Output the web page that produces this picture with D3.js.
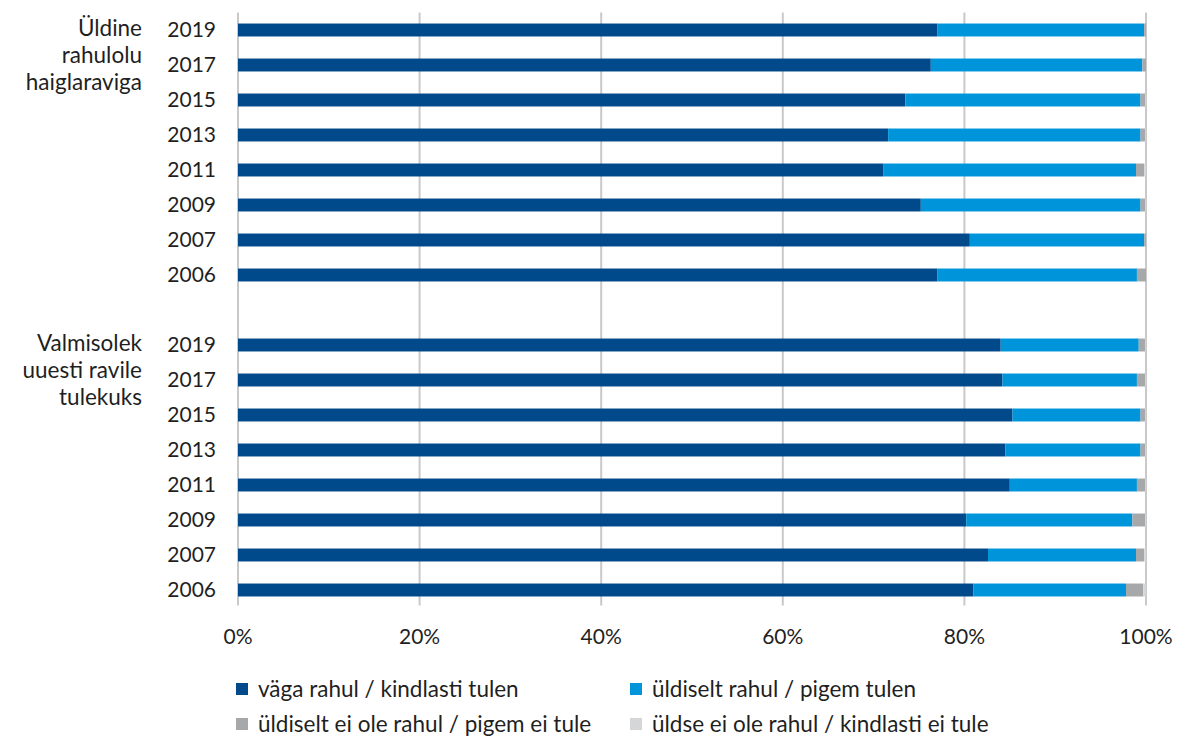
<!DOCTYPE html>
<html>
<head>
<meta charset="utf-8">
<script src="https://cdn.jsdelivr.net/npm/d3@7"></script>
<style>
    body { margin: 0; background: #fff; }
    text { font-family: Lato, "Open Sans", sans-serif; fill: #1f1f1f; }
</style>
</head>
<body>
<div class="svg"></div>
<script>
// years, top to bottom inside each block
var years = ["2019", "2017", "2015", "2013", "2011", "2009", "2007", "2006"];
var groupLabels = [
    ["Üldine", "rahulolu", "haiglaraviga"],
    ["Valmisolek", "uuesti ravile", "tulekuks"]
];
var seriesNames = [
    "väga rahul / kindlasti tulen",
    "üldiselt rahul / pigem tulen",
    "üldiselt ei ole rahul / pigem ei tule",
    "üldse ei ole rahul / kindlasti ei tule"
];
var seriesColors = ["#004a8c", "#0095da", "#a7a8aa", "#d5d6d8"];

// Üldine rahulolu haiglaraviga (%)
var satVeryHappy = [77.0, 76.3, 73.5, 71.6, 71.1, 75.2, 80.6, 77.0];
var satHappy     = [22.8, 23.3, 25.9, 27.8, 27.8, 24.2, 19.2, 22.0];
var satUnhappy   = [0.2, 0.4, 0.5, 0.5, 0.9, 0.5, 0.2, 1.0];
var satVeryUnh   = [0.0, 0.0, 0.1, 0.1, 0.2, 0.1, 0.0, 0.0];

// Valmisolek uuesti ravile tulekuks (%)
var retSure      = [84.0, 84.2, 85.3, 84.5, 85.0, 80.2, 82.6, 81.0];
var retProbably  = [15.2, 14.8, 14.1, 14.9, 14.0, 18.3, 16.3, 16.8];
var retProbNot   = [0.7, 0.9, 0.5, 0.5, 0.9, 1.4, 0.9, 1.9];
var retSureNot   = [0.1, 0.1, 0.1, 0.1, 0.1, 0.1, 0.2, 0.3];

var xTicks = [0, 20, 40, 60, 80, 100];

var width, height, margin;
var svg, x, y;

var setupConfig = function () {
    width = 1179;
    height = 736;
    margin = {left: 238, right: 33, top: 12.5, bottom: 128.5};
};

var buildRows = function () {
    var rows = [];
    var blocks = [
        [satVeryHappy, satHappy, satUnhappy, satVeryUnh],
        [retSure, retProbably, retProbNot, retSureNot]
    ];
    blocks.forEach(function (block, b) {
        years.forEach(function (yr, i) {
            rows.push({key: b + "-" + yr, year: yr, values: block.map(function (s) { return s[i]; })});
        });
        if (b === 0) rows.push({key: "gap", year: "", values: null});
    });
    return rows;
};

var draw = function () {
    var rows = buildRows();

    svg = d3.select("div.svg").append("svg")
        .attr("width", width)
        .attr("height", height);

    x = d3.scaleLinear().domain([0, 100]).range([margin.left, width - margin.right]);
    y = d3.scaleBand()
        .domain(rows.map(function (d) { return d.key; }))
        .range([margin.top, height - margin.bottom])
        .paddingInner(0.63)
        .paddingOuter(0.315);

    // gridlines
    svg.selectAll("line.grid")
        .data(xTicks)
        .enter().append("line")
        .attr("class", "grid")
        .attr("x1", function (d) { return x(d); })
        .attr("x2", function (d) { return x(d); })
        .attr("y1", margin.top)
        .attr("y2", height - margin.bottom - 2)
        .style("stroke", "#c9c9c9")
        .style("stroke-width", 2);

    // stacked bars
    var barRows = rows.filter(function (d) { return d.values; });
    barRows.forEach(function (row) {
        var acc = 0;
        row.values.forEach(function (v, k) {
            if (v > 0) {
                svg.append("rect")
                    .attr("x", x(acc))
                    .attr("y", y(row.key))
                    .attr("width", x(acc + v) - x(acc))
                    .attr("height", y.bandwidth())
                    .style("fill", seriesColors[k]);
            }
            acc += v;
        });
    });

    // year labels
    svg.selectAll("text.year")
        .data(barRows)
        .enter().append("text")
        .attr("class", "year")
        .attr("x", 216)
        .attr("y", function (d) { return y(d.key) + y.bandwidth() / 2; })
        .attr("dy", "0.35em")
        .attr("text-anchor", "end")
        .style("font-size", "21px")
        .text(function (d) { return d.year; });

    // block labels
    groupLabels.forEach(function (lines, b) {
        var top = y(b + "-" + years[0]) + y.bandwidth() / 2 - 2;
        lines.forEach(function (line, j) {
            svg.append("text")
                .attr("x", 142)
                .attr("y", top + j * 27)
                .attr("dy", "0.35em")
                .attr("text-anchor", "end")
                .style("font-size", "22.5px")
                .text(line);
        });
    });

    // x tick labels
    svg.selectAll("text.xtick")
        .data(xTicks)
        .enter().append("text")
        .attr("class", "xtick")
        .attr("x", function (d) { return x(d); })
        .attr("y", 637)
        .attr("dy", "0.35em")
        .attr("text-anchor", "middle")
        .style("font-size", "21px")
        .text(function (d) { return d + "%"; });

    // legend
    var legendPos = [[236, 689], [630, 689], [236, 724], [630, 724]];
    var legend = svg.selectAll("g.legend")
        .data(seriesNames)
        .enter().append("g")
        .attr("class", "legend")
        .attr("transform", function (d, i) { return "translate(" + legendPos[i][0] + "," + legendPos[i][1] + ")"; });
    legend.append("rect")
        .attr("x", 0)
        .attr("y", -6)
        .attr("width", 12)
        .attr("height", 12)
        .style("fill", function (d, i) { return seriesColors[i]; });
    legend.append("text")
        .attr("x", 22)
        .attr("y", 0)
        .attr("dy", "0.35em")
        .style("font-size", "22.5px")
        .text(function (d) { return d; });
};

setupConfig();
draw();
</script>
</body>
</html>
